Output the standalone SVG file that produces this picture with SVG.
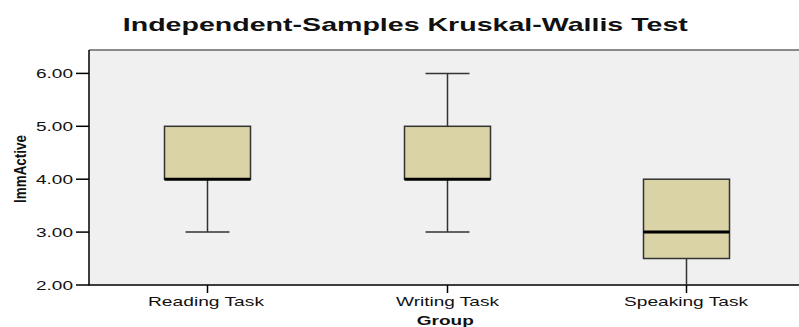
<svg xmlns="http://www.w3.org/2000/svg" width="799" height="327" viewBox="0 0 799 327">
<style>
.t{font-family:"Liberation Sans",Arial,sans-serif;fill:#111}
.b{font-weight:bold}
.box{fill:#D9D3A5;stroke:#333;stroke-width:1.5}
.med{stroke:#000;stroke-width:3}
.wh{stroke:#333;stroke-width:1.5;fill:none}
.ax{stroke:#000;stroke-width:1.5;fill:none}
</style>
<rect x="0" y="0" width="799" height="327" fill="#fff"/>
<text class="t b" x="405.3" y="30.7" font-size="18.5" text-anchor="middle" textLength="565" lengthAdjust="spacingAndGlyphs">Independent-Samples Kruskal-Wallis Test</text>
<g id="plot">
<rect x="89" y="50" width="712" height="235" fill="#F0F0F0"/>
<line x1="89" y1="50" x2="799" y2="50" stroke="#666" stroke-width="1.5"/>
</g>
<g id="axes">
<polyline class="ax" points="89,50 89,285 799,285"/>
<g class="ax">
<line x1="76" y1="73.4" x2="89" y2="73.4"/>
<line x1="76" y1="126.3" x2="89" y2="126.3"/>
<line x1="76" y1="179.2" x2="89" y2="179.2"/>
<line x1="76" y1="232.1" x2="89" y2="232.1"/>
<line x1="76" y1="285" x2="89" y2="285"/>
<line x1="207.5" y1="285" x2="207.5" y2="293"/>
<line x1="447.5" y1="285" x2="447.5" y2="293"/>
<line x1="686.5" y1="285" x2="686.5" y2="293"/>
</g>
<g class="t" font-size="12.5" text-anchor="end">
<text x="73" y="78" textLength="37" lengthAdjust="spacingAndGlyphs">6.00</text>
<text x="73" y="130.8" textLength="37" lengthAdjust="spacingAndGlyphs">5.00</text>
<text x="73" y="183.7" textLength="37" lengthAdjust="spacingAndGlyphs">4.00</text>
<text x="73" y="236.6" textLength="37" lengthAdjust="spacingAndGlyphs">3.00</text>
<text x="73" y="289.5" textLength="37" lengthAdjust="spacingAndGlyphs">2.00</text>
</g>
<g class="t" font-size="13.5" text-anchor="middle">
<text x="206" y="306" textLength="116" lengthAdjust="spacingAndGlyphs">Reading Task</text>
<text x="447.5" y="306" textLength="103" lengthAdjust="spacingAndGlyphs">Writing Task</text>
<text x="686" y="306" textLength="124" lengthAdjust="spacingAndGlyphs">Speaking Task</text>
</g>
<text class="t b" x="445.3" y="325" font-size="13" text-anchor="middle" textLength="57" lengthAdjust="spacingAndGlyphs">Group</text>
<text class="t b" transform="translate(25.5,169) rotate(-90)" font-size="16" text-anchor="middle" textLength="68" lengthAdjust="spacingAndGlyphs">ImmActive</text>
</g>
<g id="reading">
<line class="wh" x1="207.5" y1="179.2" x2="207.5" y2="232.1"/>
<line class="wh" x1="185.5" y1="232.1" x2="229.5" y2="232.1"/>
<rect class="box" x="164.5" y="126.3" width="86" height="52.9"/>
<line class="med" x1="164.5" y1="179.2" x2="250.5" y2="179.2"/>
</g>
<g id="writing">
<line class="wh" x1="447.5" y1="73.4" x2="447.5" y2="126.3"/>
<line class="wh" x1="425.5" y1="73.4" x2="469.5" y2="73.4"/>
<line class="wh" x1="447.5" y1="179.2" x2="447.5" y2="232.1"/>
<line class="wh" x1="425.5" y1="232.1" x2="469.5" y2="232.1"/>
<rect class="box" x="404.5" y="126.3" width="86" height="52.9"/>
<line class="med" x1="404.5" y1="179.2" x2="490.5" y2="179.2"/>
</g>
<g id="speaking">
<line class="wh" x1="686.5" y1="258.5" x2="686.5" y2="285"/>
<rect class="box" x="643.5" y="179.2" width="86" height="79.3"/>
<line class="med" x1="643.5" y1="232.1" x2="729.5" y2="232.1"/>
</g>
</svg>
